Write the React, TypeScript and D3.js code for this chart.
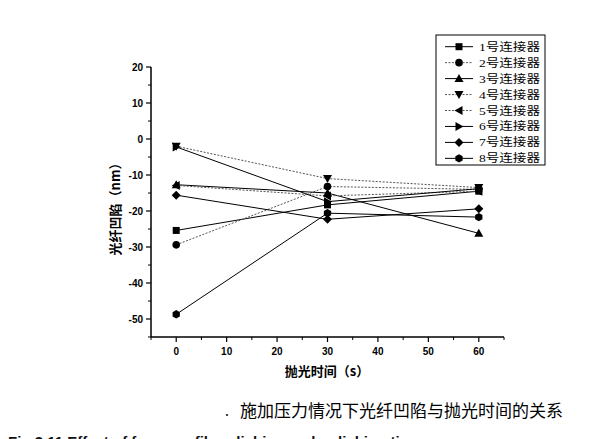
import React from "react";
import * as d3 from "d3";

const times = [0, 30, 60];
const seriesNames = ["1号连接器", "2号连接器", "3号连接器", "4号连接器", "5号连接器", "6号连接器", "7号连接器", "8号连接器"];
const s1 = [-25.4, -18.3, -14.5];
const s2 = [-29.4, -13.2, -14.0];
const s3 = [-12.7, -15.0, -26.2];
const s4 = [-2.0, -11.0, -13.5];
const s5 = [-12.9, -15.8, -14.5];
const s6 = [-2.2, -17.4, -13.8];
const s7 = [-15.6, -22.3, -19.4];
const s8 = [-48.7, -20.6, -21.7];
const seriesValues = [s1, s2, s3, s4, s5, s6, s7, s8];
const markerTypes = ["square", "circle", "up", "down", "left", "right", "diamond", "hexagon"];
const dashed = [false, true, false, true, true, false, false, false];
const xTicks = [0, 10, 20, 30, 40, 50, 60];
const yTicks = [20, 10, 0, -10, -20, -30, -40, -50];

const W = 616, H = 439;
const x = d3.scaleLinear().domain([-5, 65]).range([151, 504]);
const y = d3.scaleLinear().domain([-55, 20]).range([337, 67]);

function Marker({ type, cx, cy }: { type: string; cx: number; cy: number }) {
  let d = "";
  switch (type) {
    case "square":
      return <rect x={cx - 3.5} y={cy - 3.5} width={7} height={7} fill="#000" />;
    case "circle":
      return <circle cx={cx} cy={cy} r={3.8} fill="#000" />;
    case "up":
      d = `M${cx},${cy - 4.5}L${cx + 4.5},${cy + 3.5}L${cx - 4.5},${cy + 3.5}Z`;
      break;
    case "down":
      d = `M${cx},${cy + 4.5}L${cx + 4.5},${cy - 3.5}L${cx - 4.5},${cy - 3.5}Z`;
      break;
    case "left":
      d = `M${cx - 4.5},${cy}L${cx + 3.5},${cy - 4.5}L${cx + 3.5},${cy + 4.5}Z`;
      break;
    case "right":
      d = `M${cx + 4.5},${cy}L${cx - 3.5},${cy - 4.5}L${cx - 3.5},${cy + 4.5}Z`;
      break;
    case "diamond":
      d = `M${cx},${cy - 4.5}L${cx + 4.5},${cy}L${cx},${cy + 4.5}L${cx - 4.5},${cy}Z`;
      break;
    case "hexagon": {
      const pts = d3.range(6).map((i) => {
        const a = (Math.PI / 3) * i + Math.PI / 6;
        return [cx + 4.2 * Math.cos(a), cy + 4.2 * Math.sin(a)];
      });
      d = "M" + pts.map((p) => p.join(",")).join("L") + "Z";
      break;
    }
  }
  return <path d={d} fill="#000" />;
}

export default function App() {
  const line = d3
    .line<number>()
    .x((_, i) => x(times[i]))
    .y((v) => y(v));
  const xMinor = d3.range(-5, 66, 5).filter((v) => !xTicks.includes(v));
  const yMinor = d3.range(-55, 21, 5).filter((v) => !yTicks.includes(v));
  const tickFont = "'Liberation Sans', Arial, sans-serif";
  const cjk = "'Noto Sans CJK SC', sans-serif";
  return (
    <svg width={W} height={H} style={{ position: "absolute", left: 0, top: 0, background: "#fff" }}>
      <rect x={0} y={0} width={W} height={H} fill="#fff" />
      {/* axes */}
      <line x1={x(-5)} x2={x(-5)} y1={y(20)} y2={y(-55)} stroke="#000" strokeWidth={1.5} />
      <line x1={x(-5)} x2={x(65)} y1={y(-55)} y2={y(-55)} stroke="#000" strokeWidth={1.5} />
      {yTicks.map((t) => (
        <g key={"yt" + t}>
          <line x1={x(-5) - 5} x2={x(-5)} y1={y(t)} y2={y(t)} stroke="#000" strokeWidth={1.2} />
          <text x={x(-5) - 8} y={y(t) + 3.5} textAnchor="end" fontSize={10} fontWeight="bold" fontFamily={tickFont}>
            {t}
          </text>
        </g>
      ))}
      {yMinor.map((t) => (
        <line key={"ym" + t} x1={x(-5) - 3} x2={x(-5)} y1={y(t)} y2={y(t)} stroke="#000" strokeWidth={1} />
      ))}
      {xTicks.map((t) => (
        <g key={"xt" + t}>
          <line x1={x(t)} x2={x(t)} y1={y(-55)} y2={y(-55) + 5} stroke="#000" strokeWidth={1.2} />
          <text x={x(t)} y={y(-55) + 18} textAnchor="middle" fontSize={10} fontWeight="bold" fontFamily={tickFont}>
            {t}
          </text>
        </g>
      ))}
      {xMinor.map((t) => (
        <line key={"xm" + t} x1={x(t)} x2={x(t)} y1={y(-55)} y2={y(-55) + 3} stroke="#000" strokeWidth={1} />
      ))}
      {/* axis labels */}
      <text x={327} y={376} textAnchor="middle" fontSize={13} fontFamily={cjk} fontWeight="bold">
        抛光时间（s）
      </text>
      <text
        transform={`translate(120,206) rotate(-90)`}
        textAnchor="middle"
        fontSize={13}
        fontFamily={cjk}
        fontWeight="bold"
      >
        光纤凹陷（nm）
      </text>
      {/* series */}
      {seriesValues.map((vals, i) => (
        <path
          key={"l" + i}
          d={line(vals) || ""}
          fill="none"
          stroke={dashed[i] ? "#555" : "#000"}
          strokeWidth={1}
          strokeDasharray={dashed[i] ? "2,1.5" : undefined}
        />
      ))}
      {seriesValues.map((vals, i) =>
        vals.map((v, j) => <Marker key={`m${i}-${j}`} type={markerTypes[i]} cx={x(times[j])} cy={y(v)} />)
      )}
      {/* legend */}
      <rect x={436} y={35} width={109} height={130} fill="#fff" stroke="#000" strokeWidth={1} />
      {seriesNames.map((name, i) => {
        const ly = 46.7 + i * 15.95;
        return (
          <g key={"lg" + i}>
            <line
              x1={445}
              x2={473}
              y1={ly}
              y2={ly}
              stroke={dashed[i] ? "#555" : "#000"}
              strokeDasharray={dashed[i] ? "2,1.5" : undefined}
            />
            <Marker type={markerTypes[i]} cx={459} cy={ly} />
            <text x={479} y={ly + 4} fontSize={11} fontFamily={cjk} lengthAdjust="spacingAndGlyphs" textLength={61}>
              <tspan fontFamily="'Liberation Serif', serif">{name.slice(0, 1)}</tspan>
              {name.slice(1)}
            </text>
          </g>
        );
      })}
      {/* caption */}
      <text x={225} y={416} fontSize={14} fontFamily={cjk}>.</text>
      <text x={240} y={417} fontSize={17} fontFamily={cjk}>
        施加压力情况下光纤凹陷与抛光时间的关系
      </text>
      <text x={8} y={447} fontSize={15} fontWeight="bold" fontFamily="'Liberation Sans', Arial, sans-serif" fill="#111">
        Fig.3.11   Effect of force on fiber dishing and polishing time
      </text>
    </svg>
  );
}
